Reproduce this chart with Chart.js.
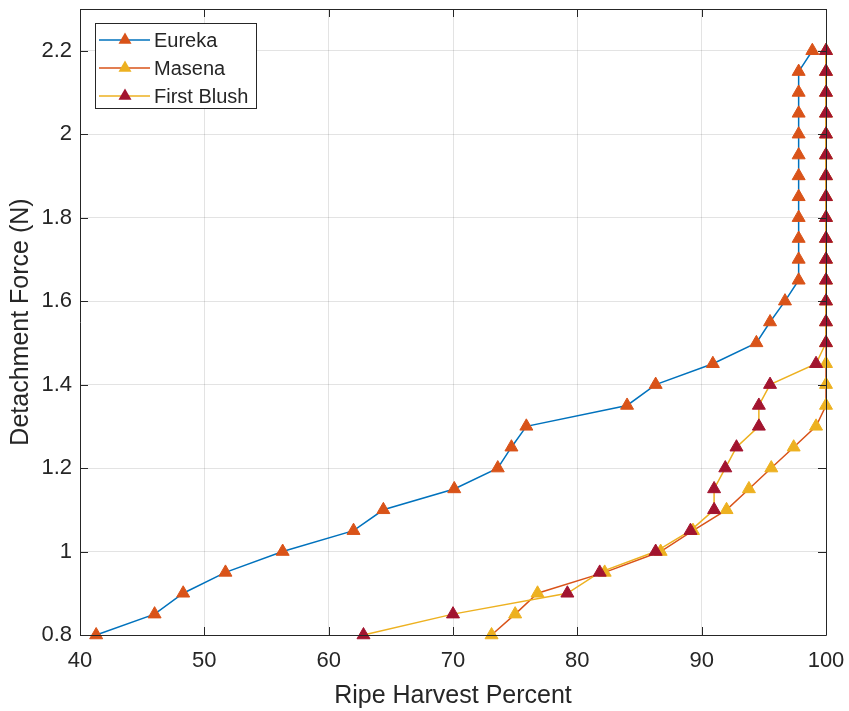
<!DOCTYPE html>
<html>
<head>
<meta charset="utf-8">
<script src="https://cdn.jsdelivr.net/npm/chart.js@4.4.1/dist/chart.umd.min.js"></script>
<style>
  html, body { margin: 0; padding: 0; background: #fff; }
  #wrap { width: 849px; height: 711px; }
</style>
</head>
<body>
<div id="wrap"><canvas id="harvest" width="849" height="711"></canvas></div>
<script>
// detachment force levels (N)
const forceLevels = [0.8,0.85,0.9,0.95,1.0,1.05,1.1,1.15,1.2,1.25,1.3,1.35,1.4,1.45,1.5,1.55,1.6,1.65,1.7,1.75,1.8,1.85,1.9,1.95,2.0,2.05,2.1,2.15,2.2]
// ripe harvest percent per variety
const eureka = [41.3,46.0,48.3,51.7,56.3,62.0,64.4,70.1,73.6,74.7,75.9,84.0,86.3,90.9,94.4,95.5,96.7,97.8,97.8,97.8,97.8,97.8,97.8,97.8,97.8,97.8,97.8,97.8,98.9]
const masena = [73.1,75.0,76.8,82.2,86.7,89.3,92.0,93.8,95.6,97.4,99.2,100,100,100,100,100,100,100,100,100,100,100,100,100,100,100,100,100,100]
const firstBlush = [62.8,70.0,79.2,81.8,86.3,89.1,91.0,91.0,91.9,92.8,94.6,94.6,95.5,99.2,100,100,100,100,100,100,100,100,100,100,100,100,100,100,100]

const seriesNames = ['Eureka','Masena','First Blush']
const lineColors = ['#0072BD','#D95319','#EDB120']
const markerColors = ['#D95319','#EDB120','#A2142F']

const xTicks = [40,50,60,70,80,90,100]
const yTicks = [0.8,1,1.2,1.4,1.6,1.8,2,2.2]

const axisColor = '#262626'
const fontFam = '"Liberation Sans", Arial, Helvetica, sans-serif'

function pts(xs){ return xs.map((x,i)=>({x:x, y:forceLevels[i]})) }

const allSeries = [eureka, masena, firstBlush]
const datasets = allSeries.map((s,i)=>({
    label: seriesNames[i],
    data: pts(s),
    showLine: true,
    borderColor: lineColors[i],
    borderWidth: 1.5,
    pointStyle: 'triangle',
    pointRadius: 7.5,
    pointHoverRadius: 7.5,
    pointBackgroundColor: markerColors[i],
    pointBorderColor: markerColors[i],
    pointBorderWidth: 1,
    clip: false,
    order: 3 - i
}))

function triangle(ctx, x, y, r){
    ctx.beginPath()
    for (let k=0;k<3;k++){
        const a = k*2*Math.PI/3
        const px = x + Math.sin(a)*r, py = y - Math.cos(a)*r
        if (k==0) ctx.moveTo(px,py); else ctx.lineTo(px,py)
    }
    ctx.closePath()
}

// box, inward ticks and legend, matlab style
const boxPlugin = {
    id: 'box',
    afterDraw(chart){
        const ctx = chart.ctx
        const a = chart.chartArea
        const xs = chart.scales.x, ys = chart.scales.y
        ctx.save()
        ctx.strokeStyle = axisColor
        ctx.lineWidth = 1
        ctx.beginPath()
        ctx.rect(a.left+0.5, a.top+0.5, a.right-a.left, a.bottom-a.top)
        ctx.stroke()
        ctx.beginPath()
        xTicks.forEach(v=>{
            const px = Math.round(xs.getPixelForValue(v))+0.5
            ctx.moveTo(px,a.bottom); ctx.lineTo(px,a.bottom-8)
            ctx.moveTo(px,a.top); ctx.lineTo(px,a.top+8)
        })
        yTicks.forEach(v=>{
            const py = Math.round(ys.getPixelForValue(v))+0.5
            ctx.moveTo(a.left,py); ctx.lineTo(a.left+8,py)
            ctx.moveTo(a.right,py); ctx.lineTo(a.right-8,py)
        })
        ctx.stroke()

        // legend
        const lx = 95, ly = 23, lw = 161, lh = 85
        ctx.fillStyle = '#fff'
        ctx.fillRect(lx, ly, lw, lh)
        ctx.strokeStyle = axisColor
        ctx.strokeRect(lx+0.5, ly+0.5, lw, lh)
        ctx.font = '20px ' + fontFam
        ctx.textBaseline = 'middle'
        seriesNames.forEach((n,i)=>{
            const cy = ly + 17 + i*28
            ctx.strokeStyle = lineColors[i]
            ctx.lineWidth = 1.5
            ctx.beginPath(); ctx.moveTo(lx+4, cy); ctx.lineTo(lx+55, cy); ctx.stroke()
            ctx.fillStyle = markerColors[i]
            triangle(ctx, lx+30, cy, 7.5)
            ctx.fill()
            ctx.fillStyle = axisColor
            ctx.fillText(n, lx+59, cy+1)
        })
        ctx.restore()
    }
}

const harvestChart = new Chart(document.getElementById('harvest'), {
    type: 'scatter',
    data: { datasets: datasets },
    options: {
        responsive: false,
        animation: false,
        events: [],
        layout: { padding: { top: 9, right: 23, left: 0, bottom: 0 } },
        plugins: {
            legend: { display: false },
            tooltip: { enabled: false }
        },
        scales: {
            x: {
                type: 'linear',
                min: 40, max: 100,
                afterBuildTicks: s => { s.ticks = xTicks.map(v=>({value:v})) },
                afterFit: s => { s.height = 76; s.paddingLeft = 0; s.paddingRight = 0 },
                grid: { color: 'rgba(38,38,38,0.13)', drawTicks: false },
                border: { display: false },
                ticks: { color: axisColor, padding: 13, font: { size: 22, family: fontFam }, callback: v => String(v) },
                title: { display: true, text: 'Ripe Harvest Percent', color: axisColor, font: { size: 25, family: fontFam }, padding: 0 }
            },
            y: {
                type: 'linear',
                min: 0.8, max: 2.3,
                afterBuildTicks: s => { s.ticks = yTicks.map(v=>({value:v})) },
                afterFit: s => { s.width = 80; s.paddingTop = 0; s.paddingBottom = 0 },
                grid: { color: 'rgba(38,38,38,0.13)', drawTicks: false },
                border: { display: false },
                ticks: { color: axisColor, padding: 8, font: { size: 22, family: fontFam }, callback: v => String(v) },
                title: { display: true, text: 'Detachment Force (N)', color: axisColor, font: { size: 25, family: fontFam }, padding: { top: 6 } }
            }
        }
    },
    plugins: [boxPlugin]
})
</script>
</body>
</html>
